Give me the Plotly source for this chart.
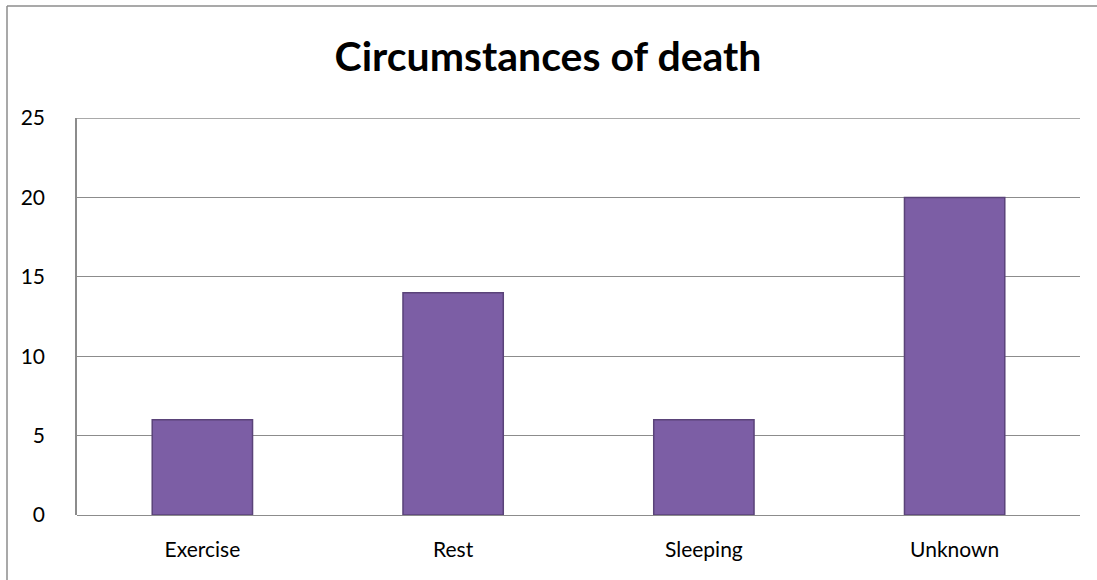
import plotly.graph_objects as go

categories = ["Exercise", "Rest", "Sleeping", "Unknown"]
values = [6, 14, 6, 20]
y_ticks = [0, 5, 10, 15, 20, 25]

W, H = 1097, 580
ml, mr, mt, mb = 77, 17, 118, 65
pw = W - ml - mr
ph = H - mt - mb

fig = go.Figure()
fig.add_trace(go.Bar(
    x=categories, y=values,
    marker=dict(color="#7C5EA5", line=dict(color="#5A4379", width=1.5)),
    width=0.4,
))

def px_to_paper_x(px):
    return (px - ml) / pw

def px_to_paper_y(py):
    return 1 - (py - mt) / ph

grid = "#8C8C8C"
fig.update_layout(
    width=W, height=H,
    margin=dict(l=ml, r=mr, t=mt, b=mb),
    paper_bgcolor="white", plot_bgcolor="white",
    showlegend=False,
    font=dict(family="Lato, Open Sans, sans-serif", size=21, color="black"),
    title=dict(text="<b>Circumstances of death</b>", x=548 / W, xanchor="center",
               y=1 - 57 / H, yanchor="middle",
               font=dict(size=41, color="black", family="Lato, Open Sans, sans-serif")),
    xaxis=dict(showline=False, showgrid=False, ticks="", ticklabelstandoff=20,
               tickfont=dict(size=21)),
    yaxis=dict(range=[0, 25], tickvals=y_ticks, showgrid=True, gridcolor=grid,
               gridwidth=1.2, showline=True, linecolor=grid, linewidth=1.5,
               zeroline=True, zerolinecolor=grid, zerolinewidth=1.2,
               ticks="", ticklabelstandoff=26, tickfont=dict(size=21)),
    shapes=[
        dict(type="line", xref="paper", yref="y", x0=0, x1=1, y0=25, y1=25,
             line=dict(color=grid, width=1.5), layer="below"),
        dict(type="line", xref="paper", yref="paper",
             x0=px_to_paper_x(7), x1=px_to_paper_x(W), y0=px_to_paper_y(6), y1=px_to_paper_y(6),
             line=dict(color=grid, width=1.5)),
        dict(type="line", xref="paper", yref="paper",
             x0=px_to_paper_x(7), x1=px_to_paper_x(7), y0=px_to_paper_y(6), y1=px_to_paper_y(H),
             line=dict(color=grid, width=1.5)),
    ],
)

fig.write_html("out.html", config={"displayModeBar": False})

with open("out.html", "r", encoding="utf-8") as f:
    html = f.read()
html = html.replace("<head>", "<head><style>html,body{margin:0;padding:0;overflow:hidden;}</style>", 1)
with open("out.html", "w", encoding="utf-8") as f:
    f.write(html)
